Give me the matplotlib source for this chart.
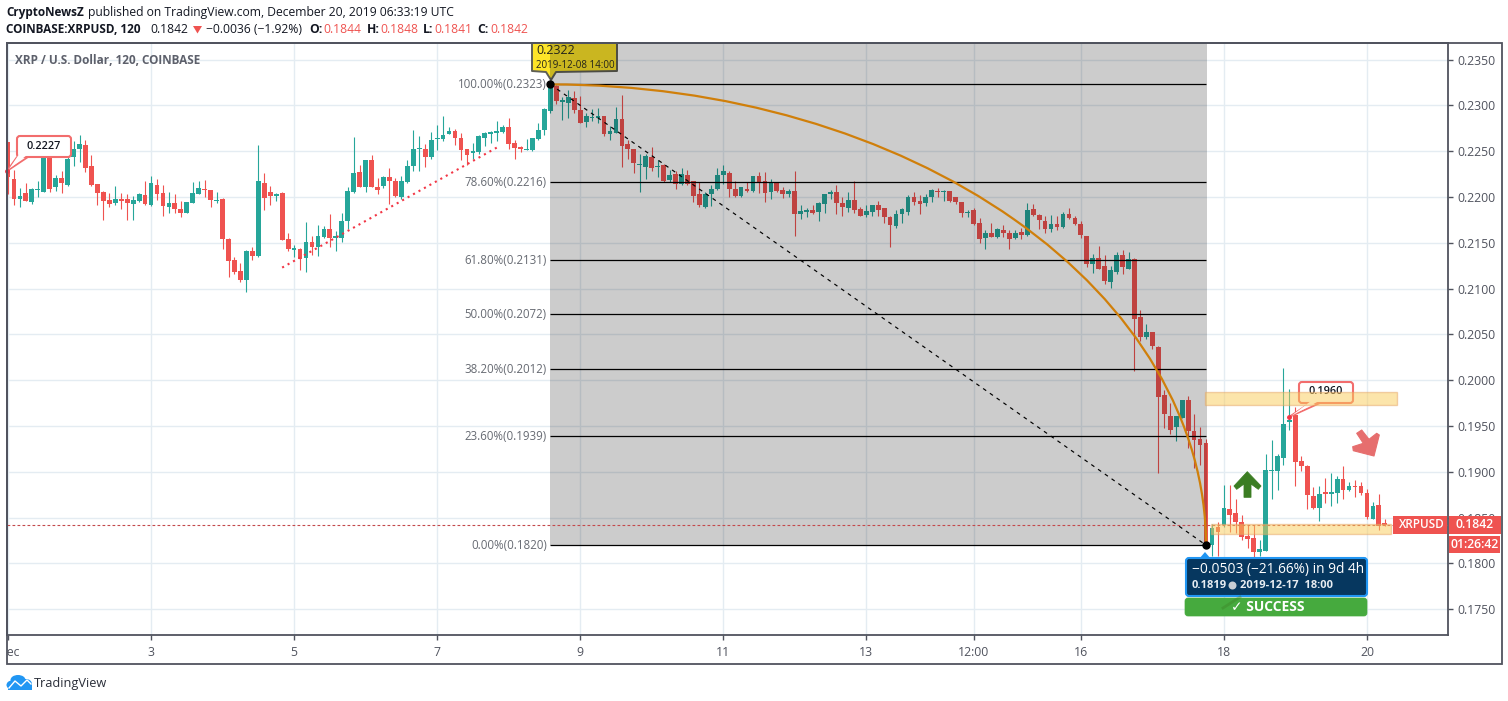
import matplotlib
matplotlib.use('Agg')
import matplotlib.pyplot as plt
from matplotlib.patches import Rectangle, FancyBboxPatch, Polygon, Arc, Circle, Ellipse
from matplotlib.transforms import Affine2D, Bbox, TransformedBbox

plt.rcParams['font.family'] = ['Open Sans', 'DejaVu Sans']

opens = [.2260, .2220, .2198, .2204, .2195, .2208, .2206, .2244, .2211, .2221,
         .2213, .2244, .2252, .2257, .2234, .2214, .2205, .2197, .2193, .2198,
         .2198, .2192, .2196, .2202, .2191, .2213, .2204, .2189, .2193, .2187,
         .2183, .2194, .2203, .2209, .2208, .2196, .2198, .2154, .2131, .2119,
         .2110, .2141, .2136, .2215, .2205, .2201, .2204, .2154, .2142, .2143,
         .2133, .2151, .2146, .2156, .2165, .2155, .2155, .2174, .2205, .2227,
         .2211, .2240, .2211, .2212, .2222, .2218, .2200, .2216, .2234, .2252,
         .2253, .2244, .2263, .2263, .2269, .2272, .2264, .2253, .2248, .2249,
         .2265, .2269, .2270, .2271, .2276, .2259, .2255, .2251, .2251, .2263,
         .2273, .2294, .2321, .2304, .2303, .2308, .2295, .2282, .2286, .2286,
         .2288, .2269, .2270, .2285, .2258, .2252, .2235, .2233, .2244, .2233,
         .2235, .2219, .2225, .2214, .2224, .2218, .2203, .2189, .2203, .2209,
         .2224, .2226, .2209, .2201, .2209, .2207, .2223, .2218, .2205, .2215,
         .2208, .2203, .2207, .2181, .2184, .2186, .2184, .2192, .2203, .2205,
         .2194, .2188, .2197, .2187, .2180, .2184, .2191, .2188, .2178, .2168,
         .2181, .2184, .2200, .2196, .2193, .2200, .2207, .2205, .2207, .2200,
         .2195, .2183, .2186, .2172, .2155, .2161, .2156, .2164, .2161, .2155,
         .2162, .2159, .2187, .2180, .2174, .2165, .2171, .2167, .2182, .2177,
         .2171, .2158, .2127, .2134, .2125, .2107, .2118, .2137, .2122, .2132,
         .2069, .2047, .2053, .2036, .1984, .1961, .1949, .1959, .1979, .1945,
         .1936, .1931, .1820, .1840, .1842, .1860, .1855, .1845, .1830, .1828,
         .1812, .1814, .1901, .1901, .1915, .1954, .1962, .1912, .1906, .1874,
         .1861, .1878, .1876, .1877, .1892, .1880, .1885, .1885, .1877, .1849,
         .1864, .1844]
highs = [.2260, .2230, .2210, .2215, .2210, .2217, .2255, .2255, .2224, .2228,
         .2244, .2261, .2268, .2262, .2246, .2214, .2207, .2204, .2212, .2204,
         .2203, .2201, .2204, .2217, .2223, .2220, .2213, .2205, .2203, .2196,
         .2195, .2216, .2217, .2219, .2208, .2206, .2199, .2155, .2135, .2128,
         .2142, .2145, .2257, .2226, .2212, .2204, .2206, .2161, .2148, .2144,
         .2173, .2157, .2170, .2168, .2181, .2163, .2183, .2211, .2266, .2235,
         .2241, .2246, .2221, .2223, .2232, .2221, .2223, .2241, .2273, .2267,
         .2258, .2271, .2279, .2289, .2276, .2274, .2270, .2253, .2259, .2268,
         .2271, .2272, .2283, .2279, .2286, .2262, .2256, .2263, .2265, .2281,
         .2297, .2324, .2322, .2309, .2317, .2316, .2310, .2292, .2296, .2297,
         .2288, .2278, .2298, .2311, .2262, .2253, .2247, .2247, .2255, .2240,
         .2236, .2230, .2229, .2232, .2230, .2218, .2216, .2205, .2213, .2232,
         .2235, .2228, .2218, .2211, .2216, .2223, .2227, .2227, .2220, .2216,
         .2211, .2209, .2228, .2191, .2188, .2191, .2195, .2203, .2208, .2213,
         .2200, .2205, .2218, .2189, .2191, .2191, .2196, .2188, .2179, .2186,
         .2188, .2202, .2205, .2202, .2203, .2209, .2210, .2208, .2207, .2200,
         .2195, .2186, .2188, .2177, .2164, .2172, .2166, .2170, .2164, .2164,
         .2166, .2193, .2192, .2182, .2179, .2180, .2179, .2184, .2188, .2179,
         .2174, .2158, .2138, .2147, .2137, .2125, .2140, .2142, .2140, .2133,
         .2077, .2061, .2053, .2037, .1989, .1975, .1961, .1979, .1983, .1963,
         .1949, .1936, .1843, .1845, .1886, .1886, .1870, .1853, .1842, .1842,
         .1826, .1919, .1935, .1919, .2013, .1991, .1971, .1917, .1907, .1884,
         .1885, .1893, .1899, .1896, .1906, .1889, .1891, .1889, .1881, .1867,
         .1876, .1848]
lows = [.2203, .2191, .2189, .2196, .2192, .2200, .2205, .2206, .2207, .2204,
        .2212, .2234, .2238, .2227, .2212, .2191, .2175, .2189, .2191, .2187,
        .2175, .2175, .2195, .2191, .2190, .2197, .2179, .2183, .2183, .2178,
        .2183, .2193, .2203, .2200, .2189, .2194, .2143, .2113, .2116, .2107,
        .2096, .2131, .2135, .2186, .2191, .2196, .2153, .2141, .2135, .2120,
        .2118, .2137, .2136, .2155, .2145, .2141, .2151, .2165, .2204, .2211,
        .2206, .2211, .2203, .2210, .2192, .2200, .2198, .2215, .2228, .2228,
        .2233, .2242, .2251, .2261, .2269, .2257, .2241, .2235, .2242, .2247,
        .2256, .2259, .2261, .2270, .2252, .2242, .2249, .2251, .2250, .2262,
        .2268, .2292, .2302, .2284, .2286, .2292, .2281, .2276, .2283, .2281,
        .2267, .2262, .2270, .2233, .2242, .2226, .2205, .2220, .2228, .2222,
        .2216, .2216, .2209, .2213, .2213, .2195, .2189, .2188, .2190, .2208,
        .2214, .2200, .2200, .2200, .2205, .2206, .2204, .2195, .2198, .2206,
        .2199, .2200, .2158, .2176, .2178, .2182, .2174, .2183, .2198, .2181,
        .2179, .2184, .2183, .2179, .2178, .2179, .2179, .2172, .2145, .2166,
        .2172, .2180, .2191, .2181, .2190, .2195, .2200, .2196, .2195, .2192,
        .2178, .2178, .2169, .2150, .2143, .2156, .2155, .2156, .2143, .2154,
        .2154, .2157, .2179, .2165, .2161, .2162, .2164, .2166, .2176, .2170,
        .2155, .2124, .2117, .2122, .2105, .2101, .2116, .2116, .2122, .2010,
        .2043, .2045, .2034, .1899, .1948, .1941, .1934, .1959, .1926, .1904,
        .1908, .1819, .1808, .1808, .1840, .1834, .1833, .1826, .1817, .1806,
        .1808, .1814, .1870, .1880, .1908, .1946, .1885, .1901, .1860, .1860,
        .1846, .1866, .1863, .1866, .1870, .1879, .1873, .1875, .1848, .1848,
        .1837, .1841]
closes = [.2222, .2198, .2201, .2196, .2209, .2209, .2244, .2209, .2221, .2215,
          .2242, .2253, .2258, .2232, .2213, .2204, .2196, .2192, .2198, .2196,
          .2193, .2197, .2203, .2192, .2215, .2203, .2190, .2193, .2187, .2183,
          .2195, .2204, .2210, .2208, .2197, .2197, .2154, .2130, .2118, .2110,
          .2141, .2136, .2217, .2199, .2201, .2203, .2153, .2143, .2144, .2132,
          .2151, .2146, .2157, .2165, .2155, .2157, .2174, .2207, .2226, .2211,
          .2241, .2211, .2208, .2222, .2218, .2201, .2217, .2234, .2253, .2253,
          .2244, .2262, .2264, .2268, .2272, .2264, .2251, .2246, .2250, .2267,
          .2270, .2271, .2272, .2276, .2258, .2254, .2252, .2253, .2264, .2273,
          .2296, .2322, .2305, .2306, .2309, .2295, .2281, .2288, .2287, .2288,
          .2269, .2272, .2285, .2256, .2252, .2237, .2236, .2245, .2232, .2234,
          .2218, .2224, .2214, .2225, .2214, .2201, .2191, .2203, .2209, .2224,
          .2228, .2209, .2201, .2211, .2207, .2223, .2215, .2204, .2215, .2207,
          .2203, .2207, .2182, .2185, .2186, .2183, .2193, .2203, .2205, .2194,
          .2189, .2197, .2186, .2179, .2185, .2191, .2186, .2178, .2169, .2182,
          .2187, .2200, .2195, .2192, .2200, .2208, .2205, .2207, .2196, .2195,
          .2183, .2184, .2171, .2154, .2161, .2156, .2165, .2161, .2154, .2161,
          .2159, .2186, .2180, .2175, .2165, .2171, .2167, .2181, .2177, .2171,
          .2159, .2127, .2134, .2122, .2108, .2120, .2137, .2124, .2132, .2067,
          .2047, .2053, .2037, .1982, .1963, .1946, .1961, .1979, .1945, .1935,
          .1929, .1819, .1839, .1834, .1861, .1853, .1845, .1829, .1827, .1812,
          .1816, .1902, .1902, .1917, .1952, .1957, .1911, .1906, .1875, .1861,
          .1876, .1876, .1878, .1892, .1880, .1885, .1883, .1877, .1851, .1863,
          .1841, .1842]

day_ticks = [24, 48, 72, 96, 120, 144, 162, 180, 204, 228]
day_labels = ['3', '5', '7', '9', '11', '13', '12:00', '16', '18', '20']
price_ticks = [.1750, .1800, .1850, .1900, .1950, .2000, .2050, .2100, .2150, .2200, .2250, .2300, .2350]
fib_pct = ['100.00%', '78.60%', '61.80%', '50.00%', '38.20%', '23.60%', '0.00%']
fib_price = [.2323, .2216, .2131, .2072, .2012, .1939, .1820]
fib_start = 91
fib_end = 201
last_price = .1842
trend_x = [46, 82]
trend_y = [.2123, .2254]
resist_zone = [200.8, 233.0, .1973, .1987]
support_zone = [201.8, 232.0, .1832, .1843]

UP = '#26a69a'
DOWN = '#ef5350'
INK = '#50535e'
W, H = 1508, 701

fig = plt.figure(figsize=(W / 100, H / 100), dpi=100)
ax = fig.add_axes([6.5 / W, (H - 635) / H, 1441.5 / W, 592 / H])
ax.set_xlim(-0.25, 241.6)
ax.set_ylim(.17219, .23682)
# pixel coordinates of the picture, origin top left
pix = Affine2D().scale(1, -1).translate(0, H)


def txt(x, y, s, size=8.8, color=INK, weight='normal', ha='left', z=12):
    return ax.text(x, y, s, transform=pix, fontsize=size, color=color, fontweight=weight,
                   ha=ha, va='center', clip_on=False, zorder=z)


def poly(points, fc, ec='none', lw=0, z=11):
    ax.add_patch(Polygon(points, closed=True, transform=pix, fc=fc, ec=ec, lw=lw,
                         clip_on=False, zorder=z, joinstyle='round'))


def box(x0, y0, x1, y1, fc, ec, lw, r=3, z=11):
    ax.add_patch(FancyBboxPatch((x0, y0), x1 - x0, y1 - y0, boxstyle='round,pad=0,rounding_size=%g' % r,
                                transform=pix, fc=fc, ec=ec, lw=lw, clip_on=False, zorder=z))


# axes
ax.yaxis.tick_right()
ax.set_yticks(price_ticks)
ax.set_yticklabels(['%.4f' % p for p in price_ticks])
ax.set_xticks([0] + day_ticks)
ax.set_xticklabels([''] + day_labels)
ax.tick_params(axis='both', length=3.6, width=1, color=INK, labelcolor=INK, labelsize=8.8)
ax.tick_params(axis='x', pad=4.5)
ax.tick_params(axis='y', pad=3)
ax.grid(True, color='#e4ecf2', lw=1)
ax.set_axisbelow(True)
for s in ax.spines.values():
    s.set_color(INK)
    s.set_linewidth(1.3)
fig.add_artist(Rectangle((6.5, 43), 1495, 621, transform=pix, fill=False, ec=INK, lw=1.3, zorder=5))

dec = txt(9.5, 652, 'Dec', ha='center')
dec.set_clip_on(True)
dec.set_clip_box(TransformedBbox(Bbox([[7, 636], [60, 664]]), pix))

# candles
for i in range(len(opens)):
    c = UP if closes[i] >= opens[i] else DOWN
    ax.vlines(i, lows[i], highs[i], color=c, lw=0.8, zorder=2)
    bottom = min(opens[i], closes[i])
    height = max(abs(closes[i] - opens[i]), .00012)
    ax.bar(i, height, bottom=bottom, width=0.8, color=c, lw=0, zorder=2.1)

# price line
ax.axhline(last_price, color='#c4494c', lw=0.8, ls=(0, (2.5, 2)), zorder=5)

# tooltip of the high point, partly under the grey block
poly([(532, 43), (617, 43), (617, 71), (556, 72), (551, 80), (546, 72), (532, 71)],
     '#fde428', '#5f5f55', 1.4, z=2.5)

# fibonacci block
ax.add_patch(Rectangle((fib_start - 0.1, fib_price[-1]), fib_end - fib_start + 0.2, .23682 - fib_price[-1],
                       fc='black', alpha=0.2, lw=0, zorder=3))
ax.hlines(fib_price, fib_start, fib_end, color='black', lw=0.9, zorder=4)
for pct, p in zip(fib_pct, fib_price):
    ax.text(fib_start - 0.6, p, '%s(%.4f)' % (pct, p), ha='right', va='center', fontsize=8.3,
            color='#666a72', zorder=6)

ax.plot([fib_start, fib_end], [fib_price[0], fib_price[-1]], color='black', lw=0.85, ls=(0, (3.2, 3.8)), zorder=5)
ax.add_patch(Arc((fib_start, fib_price[-1]), 2 * (fib_end - fib_start), 2 * (fib_price[0] - fib_price[-1]),
                 theta1=0, theta2=90, color='#d07f0a', lw=1.6, zorder=5))
ax.plot(trend_x, trend_y, color='#f23645', lw=1.5, ls=(0, (1, 2)), zorder=5)
ax.plot([fib_start, fib_end], [fib_price[0], fib_price[-1]], 'o', color='black', ms=5, ls='none', zorder=7)

txt(536, 51, '0.2322', size=9, color='#22221a')
txt(536, 65, '2019-12-08 14:00', size=7, color='#22221a')

txt(15, 60, 'XRP / U.S. Dollar, 120, COINBASE', size=8.5, color='#5d606b', weight='bold', z=3)

# callouts
poly([(17, 157), (28, 157), (7, 171)], 'white', '#f26d6d', 1.3, z=8)
box(17, 136, 71, 157, 'white', '#f26d6d', 1.5, z=8)
poly([(18.5, 155), (27, 155), (9, 169)], 'white', z=8)
txt(44, 146.5, '0.2227', size=7.8, color='#131722', weight='semibold', ha='center', z=9)
ax.plot([7], [171], 'o', color='#f23645', ms=2.5, transform=pix, clip_on=False, zorder=9)

poly([(1310, 403), (1320, 403), (1289, 417)], 'white', '#f26d6d', 1.3, z=8)
box(1299, 382, 1353, 403, 'white', '#f26d6d', 1.5, z=8)
poly([(1311, 401), (1319, 401), (1291, 416)], 'white', z=8)
txt(1326, 391.5, '0.1960', size=7.8, color='#131722', weight='semibold', ha='center', z=9)
ax.plot([1289], [417], 'o', color='#f23645', ms=2.5, transform=pix, clip_on=False, zorder=9)

# yellow zones
for z0 in (resist_zone, support_zone):
    ax.add_patch(Rectangle((z0[0], z0[2]), z0[1] - z0[0], z0[3] - z0[2], fc=(0.98, 0.8, 0.35, 0.5),
                           ec=(0.9, 0.65, 0.4, 0.5), lw=1, clip_on=False, zorder=9))

# hand drawn arrows
poly([(1247.3, 471.7), (1261, 486), (1258.3, 489.3), (1251, 484), (1251, 497.3), (1244, 497.3), (1244, 484),
      (1236.7, 489.3), (1234, 486)], '#3b7d23', '#3b7d23', 0.6)
poly([(1356.7, 433.3), (1361.7, 430), (1369, 439.3), (1376.7, 433.3), (1379.3, 435), (1374, 456),
      (1353.3, 450.7), (1352.7, 446.7), (1363.3, 443.3)], '#e66e6e', '#e66e6e', 0.8)

# result box
poly([(1199, 559), (1205, 552), (1211, 559)], '#2196f3', z=13)
box(1186, 558, 1367, 596, '#06375f', '#2196f3', 1.5, z=13)
txt(1192, 569, '\u22120.0503 (\u221221.66%) in 9d 4h', size=9.9, color='white', z=14)
txt(1192, 585, '0.1819', size=8, color='#e8edf2', weight='bold', z=14)
ax.add_patch(Circle((1232.5, 585.5), 4, transform=pix, fc='#c8ced4', ec='none', clip_on=False, zorder=14))
txt(1240, 585, '2019-12-17  18:00', size=8, color='#e8edf2', weight='bold', z=14)
box(1185, 598, 1367, 616, '#46aa3e', '#46aa3e', 0.5, z=13)
ax.plot([1223, 1240], [608, 597], color='#3b7d23', lw=2, alpha=0.35, transform=pix, clip_on=False, zorder=13.5)
txt(1268, 607, '\u2713 SUCCESS', size=10, color='white', weight='bold', ha='center', z=14)

# labels on the price scale
ax.add_patch(Rectangle((1393, 516), 54, 18, transform=pix, fc=DOWN, lw=0, clip_on=False, zorder=13))
ax.add_patch(Rectangle((1449, 516), 52, 18, transform=pix, fc=DOWN, lw=0, clip_on=False, zorder=13))
ax.add_patch(Rectangle((1449, 536), 51, 17, transform=pix, fc=DOWN, lw=0, clip_on=False, zorder=13))
txt(1422, 525, 'XRPUSD', size=8.5, color='white', weight='semibold', ha='center', z=14)
txt(1475, 525, '%.4f' % last_price, size=8.8, color='white', weight='semibold', ha='center', z=14)
txt(1475, 544.5, '01:26:42', size=8.8, color='white', weight='semibold', ha='center', z=14)

# header
txt(6, 12.7, 'CryptoNewsZ', size=8.5, color='#131722', weight='bold')
txt(88, 12.7, 'published on TradingView.com, December 20, 2019 06:33:19 UTC', size=8.75, color='#131722')
txt(6, 29.3, 'COINBASE:XRPUSD, 120', size=8.5, color='#131722', weight='bold')
txt(150, 29.3, '0.1842', size=8.75, color='#131722')
poly([(193, 26), (202, 26), (197.5, 33.5)], DOWN)
txt(206, 29.3, '\u22120.0036 (\u22121.92%)', size=8.75, color='#131722')
for x0, x1, key, val in [(309, 323, 'O:', '0.1844'), (367, 380, 'H:', '0.1848'), (423, 434, 'L:', '0.1841'),
                         (477, 490, 'C:', '0.1842')]:
    txt(x0, 29.3, key, size=8.75, color='#131722', weight='bold')
    txt(x1, 29.3, val, size=8.75, color=DOWN)

# logo
for cx, cy, w, h in [(12, 685, 11, 9), (18, 680, 15, 10), (26, 684, 12, 10)]:
    ax.add_patch(Ellipse((cx, cy), w, h, transform=pix, fc='#2196f3', lw=0, clip_on=False, zorder=11))
ax.add_patch(Rectangle((8, 684), 24, 6, transform=pix, fc='#2196f3', lw=0, clip_on=False, zorder=11))
ax.plot([9, 15, 21, 27, 31], [688, 681, 686, 680, 684], color='white', lw=1, transform=pix, clip_on=False, zorder=12)
txt(34, 683, 'TradingView', size=9.2, color='#2a2e39')

plt.savefig('out.png', dpi=100)
